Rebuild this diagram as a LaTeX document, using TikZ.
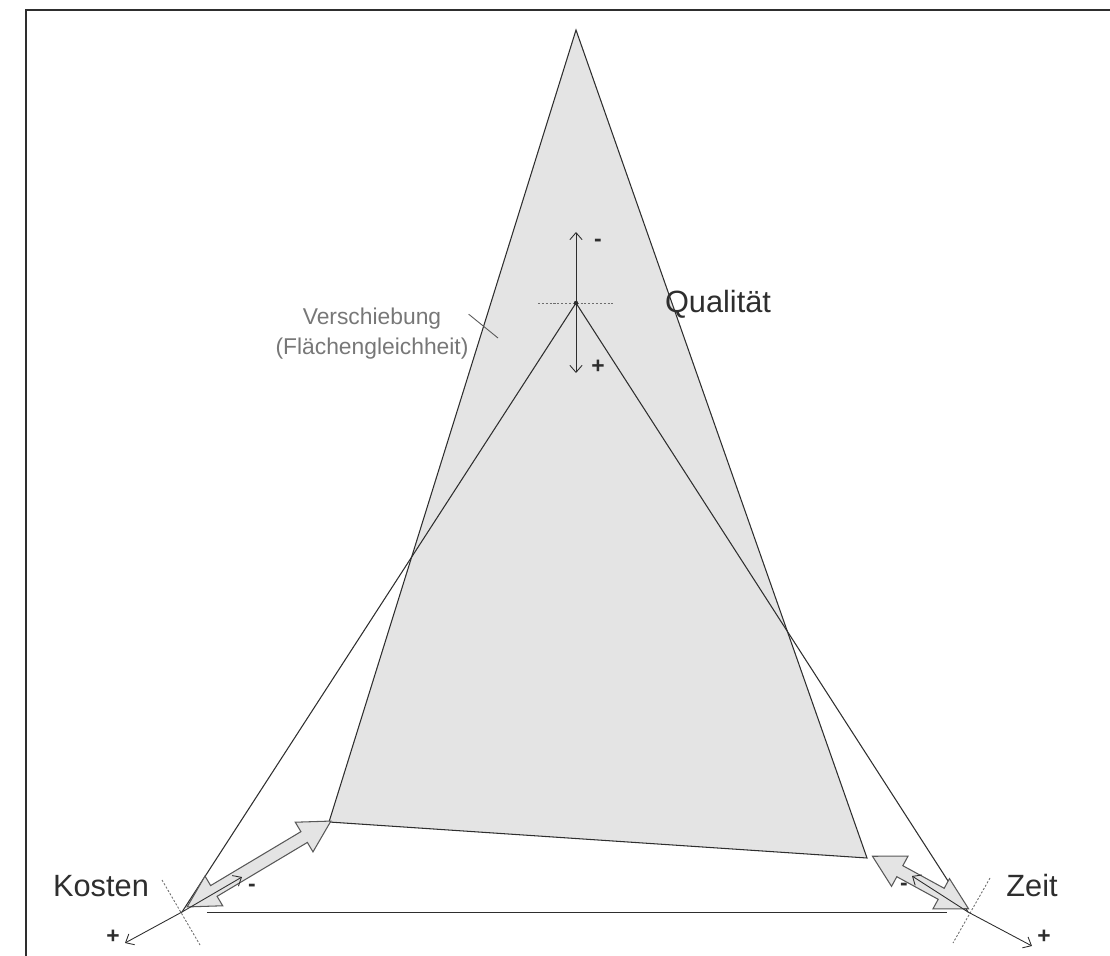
\documentclass[tikz,border=0pt]{standalone}
\usepackage{fontspec}
\setmainfont{Liberation Sans}
\usetikzlibrary{arrows.meta, shapes.arrows, calc, positioning}
\definecolor{flaeche}{HTML}{E4E4E4}
\definecolor{linie}{HTML}{2E2E2E}
\definecolor{hinweis}{HTML}{777777}

\begin{document}
\begin{tikzpicture}[x=0.02cm, y=-0.02cm]
            \tikzstyle{kante} = [draw=linie, line width=0.6pt]
            \tikzstyle{achse} = [-{Straight Barb[length=4pt, width=7pt]}, draw=linie, line width=0.5pt]
            \tikzstyle{hilfslinie} = [draw=linie!70, dash pattern=on 1.2pt off 1pt, line width=0.5pt]
            \tikzstyle{hohlpfeil} = [double arrow, draw=linie!80, fill=flaeche, line width=0.6pt,
                                     inner xsep=0pt, inner ysep=0.115cm, minimum width=0pt,
                                     double arrow head extend=0.22cm,
                                     double arrow tip angle=58, sloped]
            \tikzstyle{ecklabel} = [font=\fontsize{17.5}{20}\selectfont, text=linie]
            \tikzstyle{vorzeichen} = [font=\bfseries\fontsize{13}{15}\selectfont, text=linie, inner sep=0pt]

            \useasboundingbox (0,0) rectangle (1110,956);
            \draw [linie, line width=1.1pt] (26,10) rectangle (1140,990);

            % verschobenes Dreieck
            \coordinate (qualspitze) at (576,30);
            \coordinate (kostecke)   at (329,822);
            \coordinate (zeitecke)   at (867,858);
            \filldraw [kante, fill=flaeche] (qualspitze) -- (kostecke) -- (zeitecke) -- cycle;

            % Ausgangsdreieck
            \coordinate (qualpunkt) at (576,303);
            \coordinate (kostpunkt) at (182,912);
            \coordinate (zeitpunkt) at (968,912);
            \draw [kante] (qualpunkt) -- (kostpunkt);
            \draw [kante] (qualpunkt) -- (zeitpunkt);
            \draw [kante, line width=0.5pt, shorten <=0.5cm, shorten >=0.42cm] (kostpunkt) -- (zeitpunkt);

            % Hilfslinien
            \coordinate (kostquerA) at (162,880);
            \coordinate (kostquerB) at (200,945);
            \coordinate (zeitquerA) at (990,878);
            \coordinate (zeitquerB) at (953,943);
            \coordinate (qualquerA) at (538,303);
            \coordinate (qualquerB) at (613,303);
            \draw [hilfslinie] (kostquerA) -- (kostquerB);
            \draw [hilfslinie] (zeitquerA) -- (zeitquerB);
            \draw [hilfslinie] (qualquerA) -- (qualquerB);

            % Verschiebungspfeile
            \coordinate (kostpfeilA) at (187,907);
            \coordinate (kostpfeilB) at (331,821);
            \coordinate (zeitpfeilA) at (969,909);
            \coordinate (zeitpfeilB) at (872,856);
            \path (kostpfeilA) -- node (kostpfeil) [hohlpfeil, minimum height=3.35cm] {} (kostpfeilB);
            \path (zeitpfeilA) -- node (zeitpfeil) [hohlpfeil, minimum height=2.19cm] {} (zeitpfeilB);

            % Achsen mit Vorzeichen
            \coordinate (kostminus) at (242,877);
            \coordinate (kostplus)  at (125,943);
            \coordinate (zeitminus) at (912,876);
            \coordinate (zeitplus)  at (1032,946);
            \coordinate (qualminus) at (576,232);
            \coordinate (qualplus)  at (576,373);
            \draw [achse] (kostpunkt) -- (kostminus);
            \draw [achse] (kostpunkt) -- (kostplus);
            \draw [achse] (zeitpunkt) -- (zeitminus);
            \draw [achse] (zeitpunkt) -- (zeitplus);
            \draw [achse] (qualpunkt) -- (qualminus);
            \draw [achse] (qualpunkt) -- (qualplus);
            \fill [linie] (qualpunkt) circle (2.2);

            \node (kostminuszeichen) [vorzeichen] at (252,888) {-};
            \node (kostpluszeichen)  [vorzeichen] at (113,937) {+};
            \node (zeitminuszeichen) [vorzeichen] at (904,887) {-};
            \node (zeitpluszeichen)  [vorzeichen] at (1044,937) {+};
            \node (qualminuszeichen) [vorzeichen] at (598,243) {-};
            \node (qualpluszeichen)  [vorzeichen] at (598,367) {+};

            % Beschriftung
            \node (qualitaet) [ecklabel] at (718,304) {Qualität};
            \node (kosten)    [ecklabel] at (101,886) {Kosten};
            \node (zeit)      [ecklabel] at (1032,886) {Zeit};

            \node (verschiebung) [align=center, text=hinweis, font=\fontsize{13}{17}\selectfont]
                                 at (372,334) {Verschiebung\\(Flächengleichheit)};
            \coordinate (hinweisende) at (498,338);
            \draw [draw=linie!80, line width=0.5pt] (verschiebung.north east) ++(-6,12) -- (hinweisende);
        \end{tikzpicture}
\end{document}
